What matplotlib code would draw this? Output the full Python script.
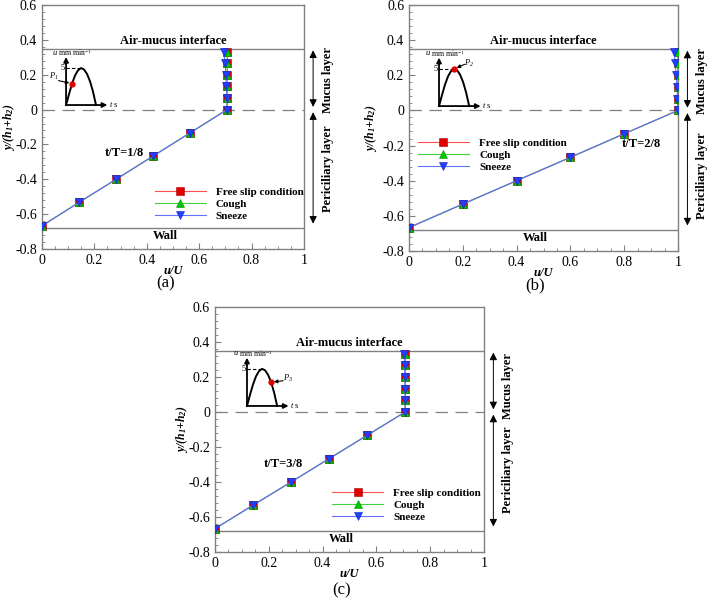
import numpy as np
import matplotlib.pyplot as plt

plt.rcParams['font.family'] = ['Liberation Serif', 'DejaVu Serif']
plt.rcParams['mathtext.default'] = 'regular'

# wall-normal positions of the sampled points
y_pts = [-0.667, -0.533, -0.4, -0.267, -0.133, 0.0, 0.067, 0.133, 0.2, 0.267, 0.333]

# (a) t/T = 1/8
u_a_free = [0.0, 0.141, 0.283, 0.424, 0.566, 0.707, 0.708, 0.708, 0.708, 0.708, 0.708]
u_a_cough = [0.0, 0.141, 0.283, 0.424, 0.566, 0.707, 0.707, 0.707, 0.707, 0.707, 0.707]
u_a_sneeze = [0.0, 0.141, 0.283, 0.424, 0.566, 0.707, 0.706, 0.704, 0.702, 0.699, 0.694]

# (b) t/T = 2/8
u_b_free = [0.0, 0.2, 0.4, 0.6, 0.8, 1.0, 1.0, 1.0, 1.0, 1.0, 1.0]
u_b_cough = [0.0, 0.2, 0.4, 0.6, 0.8, 1.0, 1.0, 1.0, 1.0, 1.0, 0.999]
u_b_sneeze = [0.0, 0.2, 0.4, 0.6, 0.8, 1.0, 0.998, 0.996, 0.993, 0.99, 0.985]

# (c) t/T = 3/8
u_c_free = [0.0, 0.141, 0.283, 0.424, 0.566, 0.707, 0.708, 0.708, 0.708, 0.708, 0.708]
u_c_cough = [0.0, 0.141, 0.283, 0.424, 0.566, 0.707, 0.707, 0.707, 0.707, 0.707, 0.707]
u_c_sneeze = [0.0, 0.141, 0.283, 0.424, 0.566, 0.707, 0.707, 0.706, 0.706, 0.705, 0.704]

series_names = ['Free slip condition', 'Cough', 'Sneeze']
interface_y = 0.35
wall_y = -0.68

x_ticks = [0, 0.2, 0.4, 0.6, 0.8, 1.0]
x_ticklabels = ['0', '0.2', '0.4', '0.6', '0.8', '1']
y_ticks = [-0.8, -0.6, -0.4, -0.2, 0, 0.2, 0.4, 0.6]
y_ticklabels = ['-0.8', '-0.6', '-0.4', '-0.2', '0', '0.2', '0.4', '0.6']

# inset sketch of the cough velocity pulse
pulse_t = [0, 0.1, 0.2, 0.3, 0.4, 0.5, 0.6, 0.7, 0.8, 0.9, 1.0]
pulse_u = [0, 1.5, 2.9, 4.0, 4.7, 5.0, 4.8, 4.2, 3.2, 1.8, 0]

GRAY = '#808080'

fig = plt.figure(figsize=(7.09, 5.99), dpi=100)


def draw_panel(ax, u_free, u_cough, u_sneeze, tlabel, tpos, leg_anchor,
               inset_box, p_idx, p_name, p_text, p_tail, mucus_y, peri_y, caption, cap_y, ylab_x):
    ax.plot(u_free, y_pts, color='#ff5050', lw=0.8, marker='s', ms=5.5,
            mfc='#e00000', mec='#b00000', mew=0.4, label=series_names[0], zorder=3)
    ax.plot(u_cough, y_pts, color='#40d040', lw=0.8, marker='^', ms=6,
            mfc='#00c800', mec='#009000', mew=0.4, label=series_names[1], zorder=4)
    ax.plot(u_sneeze, y_pts, color='#6070ff', lw=0.8, marker='v', ms=6,
            mfc='#2040ff', mec='#1020c0', mew=0.4, label=series_names[2], zorder=5)

    ax.axhline(interface_y, color=GRAY, lw=1.0, zorder=1)
    ax.axhline(wall_y, color=GRAY, lw=1.0, zorder=1)
    ax.axhline(0, color=GRAY, lw=0.9, dashes=(10, 6), zorder=1)

    ax.set_xlim(0, 1)
    ax.set_ylim(-0.8, 0.6)
    ax.set_xticks(x_ticks)
    ax.set_xticklabels(x_ticklabels)
    ax.set_yticks(y_ticks)
    ax.set_yticklabels(y_ticklabels)
    ax.set_xticks(np.arange(0, 1.0001, 0.05), minor=True)
    ax.set_yticks(np.arange(-0.8, 0.6001, 0.04), minor=True)
    ax.tick_params(which='both', direction='in', colors=GRAY, labelcolor='black',
                   labelsize=10)
    ax.tick_params(which='major', length=4, width=0.8)
    ax.tick_params(which='minor', length=2.5, width=0.6)
    for s in ax.spines.values():
        s.set_color(GRAY)
        s.set_linewidth(1.0)

    ax.set_xlabel('u/U', fontsize=9, fontweight='bold', style='italic')
    ax.set_ylabel('y/(h$_1$+h$_2$)', fontsize=8.5, fontweight='bold', style='italic')
    ax.xaxis.set_label_coords(0.5, -0.065)
    ax.yaxis.set_label_coords(-ylab_x, 0.5)

    ax.text(0.5, 0.395, 'Air-mucus interface', fontsize=9, fontweight='bold',
            ha='center', va='center')
    ax.text(0.47, -0.725, 'Wall', fontsize=9, fontweight='bold', ha='center', va='center')
    ax.text(tpos[0], tpos[1], tlabel, fontsize=9, fontweight='bold', ha='left', va='center')

    leg = ax.legend(loc='upper left', bbox_to_anchor=leg_anchor, frameon=False,
                    prop={'weight': 'bold', 'size': 8}, handlelength=4.6,
                    handletextpad=0.9, labelspacing=0.2, borderpad=0, borderaxespad=0)

    # layer arrows outside the frame
    for top, bot in [(0.34, 0.015), (-0.015, -0.655)]:
        ax.annotate('', xy=(1.035, top), xytext=(1.035, bot),
                    xycoords=('axes fraction', 'data'),
                    arrowprops=dict(arrowstyle='<|-|>', color='black', lw=0.7,
                                    mutation_scale=11, shrinkA=0, shrinkB=0),
                    annotation_clip=False)
    ax.text(1.09, mucus_y, 'Mucus layer', transform=ax.get_yaxis_transform(), rotation=90,
            fontsize=9, fontweight='bold', ha='center', va='center')
    ax.text(1.09, peri_y, 'Periciliary layer', transform=ax.get_yaxis_transform(), rotation=90,
            fontsize=9, fontweight='bold', ha='center', va='center')

    ax.text(0.47, cap_y, caption, transform=ax.transAxes, fontsize=12, ha='center', va='center')

    # inset sketch
    ins = ax.inset_axes(inset_box)
    ins.set_xlim(0, 1.4)
    ins.set_ylim(0, 6.6)
    ins.axis('off')
    ins.plot(pulse_t, pulse_u, color='black', lw=1.4, clip_on=False)
    ins.annotate('', xy=(0, 6.5), xytext=(0, 0),
                 arrowprops=dict(arrowstyle='-|>', color='black', lw=1.3,
                                 mutation_scale=7, shrinkA=0, shrinkB=0), annotation_clip=False)
    ins.annotate('', xy=(1.38, 0), xytext=(0, 0),
                 arrowprops=dict(arrowstyle='-|>', color='black', lw=1.3,
                                 mutation_scale=7, shrinkA=0, shrinkB=0), annotation_clip=False)
    ins.plot([0, 0.5], [5, 5], color='black', lw=0.8, dashes=(3, 2), clip_on=False)
    ins.text(-0.1, 5, '5', fontsize=6, ha='center', va='center')
    ins.text(-0.45, 7.1, 'u', fontsize=6, style='italic', ha='left', va='center')
    ins.text(-0.3, 7.1, ' mm min$^{-1}$', fontsize=5.5, ha='left', va='center')
    ins.text(1.45, 0, 't', fontsize=6, style='italic', ha='left', va='center')
    ins.text(1.58, 0, 's', fontsize=6, ha='left', va='center')
    ins.plot(pulse_t[p_idx], pulse_u[p_idx], 'o', color='#e00000', ms=3.5, clip_on=False)
    ins.annotate('', xy=(pulse_t[p_idx], pulse_u[p_idx]), xytext=p_tail,
                 arrowprops=dict(arrowstyle='-|>', color='black', lw=0.8,
                                 mutation_scale=5, shrinkA=0, shrinkB=2), annotation_clip=False)
    ins.text(p_text[0], p_text[1], p_name, fontsize=6, style='italic', ha='center', va='center')
    return leg


ax_a = fig.add_axes([0.0592, 0.5843, 0.3695, 0.4074])
ax_b = fig.add_axes([0.5769, 0.581, 0.3794, 0.4107])
ax_c = fig.add_axes([0.3032, 0.0785, 0.3794, 0.409])

draw_panel(ax_a, u_a_free, u_a_cough, u_a_sneeze, 't/T=1/8', (0.24, -0.25),
           (0.43, 0.254), [0.092, 0.59, 0.16, 0.2], 2, 'P$_1$', (-0.42, 3.9), (-0.25, 3.3),
           0.17, -0.34, '(a)', -0.14, 0.095)
draw_panel(ax_b, u_b_free, u_b_cough, u_b_sneeze, 't/T=2/8', (0.79, -0.19),
           (0.033, 0.459), [0.1115, 0.589, 0.157, 0.2], 5, 'P$_2$', (1.0, 5.7), (0.85, 5.6),
           0.17, -0.37, '(b)', -0.14, 0.112)
draw_panel(ax_c, u_c_free, u_c_cough, u_c_sneeze, 't/T=3/8', (0.18, -0.3),
           (0.435, 0.261), [0.119, 0.596, 0.157, 0.2], 8, 'P$_3$', (1.35, 3.7), (1.2, 3.4),
           0.15, -0.33, '(c)', -0.155, 0.093)

fig.savefig('out.png', dpi=100)
